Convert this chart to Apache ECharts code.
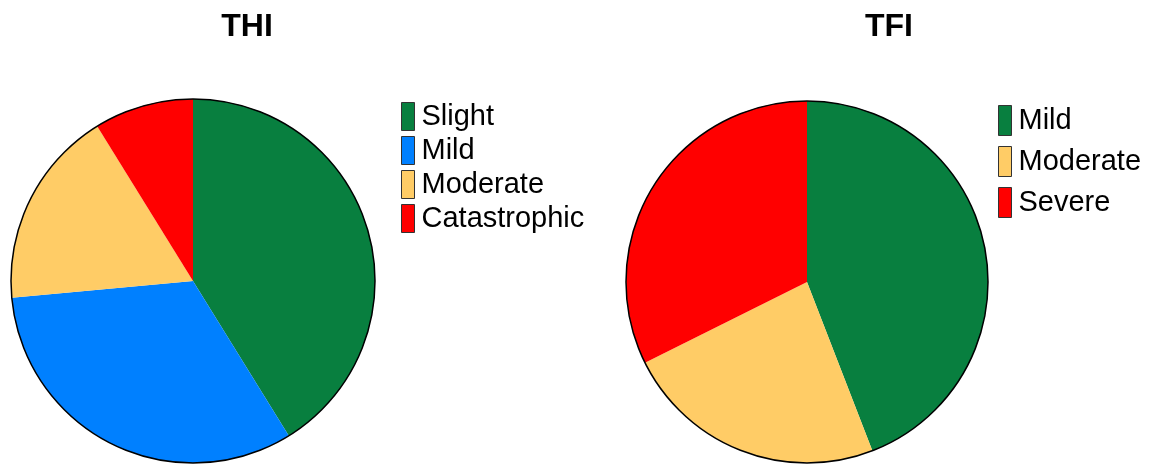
<!DOCTYPE html>
<html>
<head>
<meta charset="utf-8">
<script src="https://cdn.jsdelivr.net/npm/echarts@6/dist/echarts.min.js"></script>
<style>
  html, body { margin: 0; padding: 0; background: #fff; }
  #chart { width: 1153px; height: 464px; }
</style>
</head>
<body>
<div id="chart"></div>
<script>
  // THI: counts per grade (n = 34)
  var thiNames = ['Slight', 'Mild', 'Moderate', 'Catastrophic'];
  var thiValues = [14, 11, 6, 3];
  var thiColors = ['#087f3f', '#0080ff', '#ffcc66', '#ff0000'];

  // TFI: counts per grade (n = 34)
  var tfiNames = ['Mild', 'Moderate', 'Severe'];
  var tfiValues = [15, 8, 11];
  var tfiColors = ['#087f3f', '#ffcc66', '#ff0000'];

  var font = 'Liberation Sans, Arial, sans-serif';

  function pieData(names, values, colors) {
    return names.map(function (n, i) {
      return { name: n, value: values[i], itemStyle: { color: colors[i] } };
    });
  }
  function legendData(names, colors) {
    return names.map(function (n, i) {
      return { name: n, itemStyle: { color: colors[i] } };
    });
  }
  function outline(center, radius) {
    return {
      type: 'pie', silent: true, center: center, radius: radius, z: 5,
      startAngle: 90, label: { show: false }, labelLine: { show: false },
      itemStyle: { color: 'rgba(0,0,0,0)', borderColor: '#000', borderWidth: 1.5 },
      data: [{ name: '', value: 1 }]
    };
  }

  var chart = echarts.init(document.getElementById('chart'));
  var option = {
    animation: false,
    title: [
      { text: 'THI', left: 247, top: 11, padding: 0, textAlign: 'center',
        textStyle: { fontFamily: font, fontSize: 32, fontWeight: 'bold', color: '#000' } },
      { text: 'TFI', left: 889, top: 11, padding: 0, textAlign: 'center',
        textStyle: { fontFamily: font, fontSize: 32, fontWeight: 'bold', color: '#000' } }
    ],
    legend: [
      {
        orient: 'vertical', left: 401, top: 102, padding: 0, icon: 'rect',
        itemWidth: 13, itemHeight: 28, itemGap: 5, selectedMode: false,
        itemStyle: { borderColor: '#333', borderWidth: 1 },
        textStyle: { fontFamily: font, fontSize: 29, color: '#000', padding: [0, 0, 0, 2] },
        data: legendData(thiNames, thiColors)
      },
      {
        orient: 'vertical', left: 998, top: 105, padding: 0, icon: 'rect',
        itemWidth: 13, itemHeight: 30, itemGap: 10, selectedMode: false,
        itemStyle: { borderColor: '#333', borderWidth: 1 },
        textStyle: { fontFamily: font, fontSize: 29, color: '#000', padding: [0, 0, 0, 2] },
        data: legendData(tfiNames, tfiColors)
      }
    ],
    series: [
      {
        name: 'THI', type: 'pie', center: [193, 281], radius: 182,
        startAngle: 90, clockwise: true,
        label: { show: false }, labelLine: { show: false },
        itemStyle: { borderWidth: 0 },
        emphasis: { disabled: true },
        data: pieData(thiNames, thiValues, thiColors)
      },
      outline([193, 281], 182),
      {
        name: 'TFI', type: 'pie', center: [807, 282], radius: 181,
        startAngle: 90, clockwise: true,
        label: { show: false }, labelLine: { show: false },
        itemStyle: { borderWidth: 0 },
        emphasis: { disabled: true },
        data: pieData(tfiNames, tfiValues, tfiColors)
      },
      outline([807, 282], 181)
    ]
  };
  chart.setOption(option);
</script>
</body>
</html>
